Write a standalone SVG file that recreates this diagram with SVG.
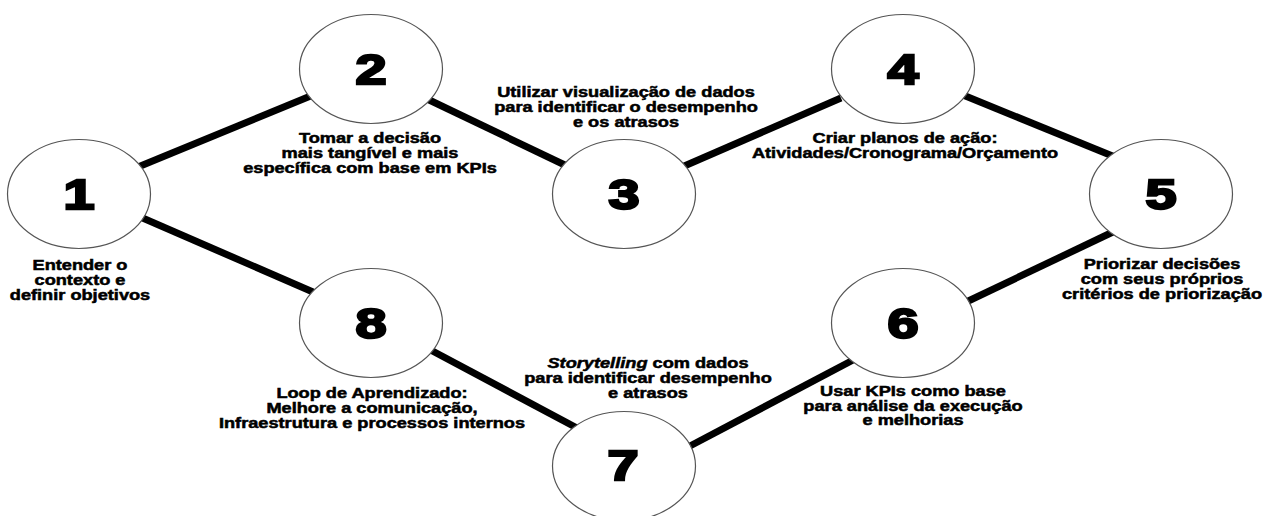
<svg xmlns="http://www.w3.org/2000/svg" width="1271" height="516" viewBox="0 0 1271 516">
<style>
.node ellipse{fill:#fff;stroke:#555;stroke-width:1.2}
.num{font-family:"Liberation Sans",Arial,sans-serif;font-weight:bold;font-size:43px;text-anchor:middle;fill:#000;stroke:#000;stroke-width:2.4}
.lbl{font-family:"Liberation Sans",Arial,sans-serif;font-weight:bold;font-size:14px;text-anchor:middle;fill:#000;stroke:#000;stroke-width:0.5}
#connectors line{stroke:#000;stroke-width:7}
</style>
<rect width="1271" height="516" fill="#fff"/>
<g id="connectors">
<line x1="138" y1="167" x2="313" y2="95"/>
<line x1="425" y1="98" x2="569" y2="167"/>
<line x1="682" y1="167" x2="841" y2="98"/>
<line x1="963" y1="95" x2="1115" y2="157"/>
<line x1="1115" y1="231" x2="962" y2="304"/>
<line x1="855" y1="359" x2="690" y2="446"/>
<line x1="425" y1="347" x2="577" y2="428"/>
<line x1="138" y1="216" x2="313" y2="292"/>
</g>
<g id="node1" class="node">
<ellipse cx="79" cy="194" rx="71.5" ry="54.5"/>
<text class="num" transform="translate(79 0) scale(1.3 1)" x="0" y="209">1</text>
<text class="lbl" transform="translate(80 0) scale(1.3 1)"><tspan x="0" y="270">Entender o</tspan><tspan x="0" y="285">contexto e</tspan><tspan x="0" y="300">definir objetivos</tspan></text>
</g>
<g id="node2" class="node">
<ellipse cx="371" cy="69" rx="71.5" ry="54.5"/>
<text class="num" transform="translate(371 0) scale(1.3 1)" x="0" y="84">2</text>
<text class="lbl" transform="translate(370 0) scale(1.3 1)"><tspan x="0" y="143">Tomar a decisão</tspan><tspan x="0" y="158">mais tangível e mais</tspan><tspan x="0" y="173">específica com base em KPIs</tspan></text>
</g>
<g id="node3" class="node">
<ellipse cx="624" cy="194" rx="71.5" ry="54.5"/>
<text class="num" transform="translate(624 0) scale(1.3 1)" x="0" y="209">3</text>
<text class="lbl" transform="translate(626 0) scale(1.3 1)"><tspan x="0" y="97">Utilizar visualização de dados</tspan><tspan x="0" y="112">para identificar o desempenho</tspan><tspan x="0" y="127">e os atrasos</tspan></text>
</g>
<g id="node4" class="node">
<ellipse cx="903" cy="69" rx="71.5" ry="54.5"/>
<text class="num" transform="translate(903 0) scale(1.3 1)" x="0" y="84">4</text>
<text class="lbl" transform="translate(905 0) scale(1.3 1)"><tspan x="0" y="143">Criar planos de ação:</tspan><tspan x="0" y="158">Atividades/Cronograma/Orçamento</tspan></text>
</g>
<g id="node5" class="node">
<ellipse cx="1161" cy="194" rx="71.5" ry="54.5"/>
<text class="num" transform="translate(1161 0) scale(1.3 1)" x="0" y="209">5</text>
<text class="lbl" transform="translate(1162 0) scale(1.3 1)"><tspan x="0" y="269">Priorizar decisões</tspan><tspan x="0" y="284">com seus próprios</tspan><tspan x="0" y="299">critérios de priorização</tspan></text>
</g>
<g id="node6" class="node">
<ellipse cx="903" cy="323" rx="71.5" ry="54.5"/>
<text class="num" transform="translate(903 0) scale(1.3 1)" x="0" y="338">6</text>
<text class="lbl" transform="translate(913 0) scale(1.3 1)"><tspan x="0" y="396">Usar KPIs como base</tspan><tspan x="0" y="411">para análise da execução</tspan><tspan x="0" y="425">e melhorias</tspan></text>
</g>
<g id="node7" class="node">
<ellipse cx="624" cy="466" rx="71.5" ry="54.5"/>
<text class="num" transform="translate(623 0) scale(1.3 1)" x="0" y="480">7</text>
<text class="lbl" transform="translate(648 0) scale(1.3 1)"><tspan x="0" y="368"><tspan font-style="italic">Storytelling</tspan> com dados</tspan><tspan x="0" y="383">para identificar desempenho</tspan><tspan x="0" y="398">e atrasos</tspan></text>
</g>
<g id="node8" class="node">
<ellipse cx="371" cy="323" rx="71.5" ry="54.5"/>
<text class="num" transform="translate(371 0) scale(1.3 1)" x="0" y="338">8</text>
<text class="lbl" transform="translate(372 0) scale(1.3 1)"><tspan x="0" y="398">Loop de Aprendizado:</tspan><tspan x="0" y="413">Melhore a comunicação,</tspan><tspan x="0" y="428">Infraestrutura e processos internos</tspan></text>
</g>
</svg>
